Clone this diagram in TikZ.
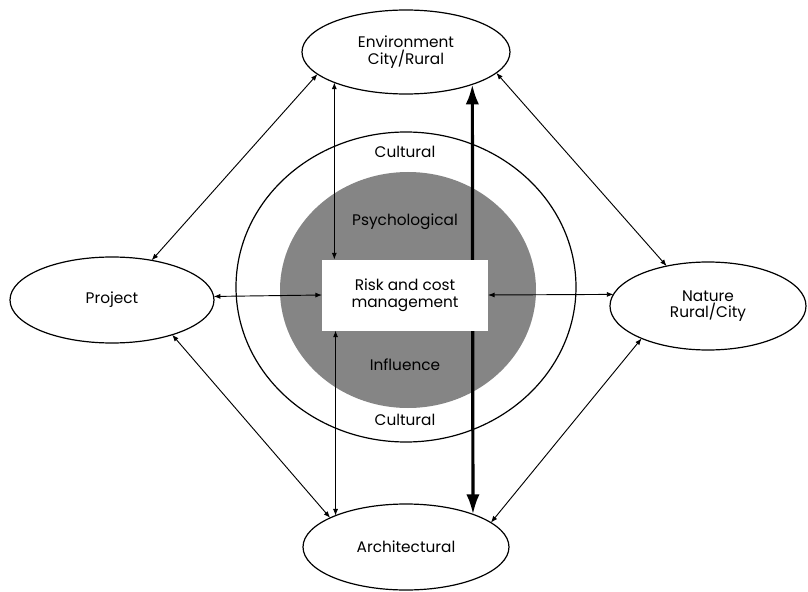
\documentclass[tikz,border=0pt]{standalone}
\usepackage{fontspec}
\setmainfont{Poppins}
\usetikzlibrary{arrows.meta,shapes.geometric}
\begin{document}
\begin{tikzpicture}[x=0.75pt,y=-0.75pt,
  lbl/.style={font=\fontsize{11.5}{12.5}\selectfont, align=center},
  oval/.style={draw, ellipse, line width=0.9pt, inner sep=0pt, outer sep=0pt, lbl},
  core/.style={fill=white, rectangle, inner sep=0pt, outer sep=0pt,
    minimum width=124.5pt, minimum height=53.25pt, lbl},
  link/.style={line width=0.7pt, {Latex[length=5pt,width=3.8pt]}-{Latex[length=5pt,width=3.8pt]}},
  mainlink/.style={line width=2.4pt, {Latex[length=15pt,width=10pt]}-{Latex[length=15pt,width=10pt]}}
]
\useasboundingbox (0,0) rectangle (808,592);

% cultural ring and psychological core
\draw[line width=0.9pt] (406,287) ellipse [x radius=170, y radius=155];
\fill[black!48] (408,290) ellipse [x radius=128, y radius=118];

% outer contexts
\node[oval, minimum width=156pt, minimum height=63pt] (env) at (406,52) {Environment\\City/Rural};
\node[oval, minimum width=153pt, minimum height=64.5pt] (proj) at (112,300) {Project};
\node[oval, minimum width=147pt, minimum height=66pt] (nat) at (708,306) {Nature\\Rural/City};
\node[oval, minimum width=154.5pt, minimum height=64.5pt] (arch) at (406,547) {Architectural};

% main axis, passing behind the central box
\draw[mainlink] (env.-26.2) -- (arch.26.6);

% central box
\node[core] (rk) at (405,295) {Risk and cost\\management};

% links to the central box
\draw[link] (env.203.4) -- (env.203.4 |- rk.north);
\draw[link] (arch.156.3 |- rk.south) -- (arch.156.3);
\draw[link] (proj.2.8) -- (rk.west);
\draw[link] (rk.east) -- (nat.173.4);

% links between the outer contexts
\draw[link] (proj.45.7) -- (env.194.5);
\draw[link] (env.-13.3) -- (nat.136.4);
\draw[link] (proj.-30.3) -- (arch.159.6);
\draw[link] (nat.206.6) -- (arch.16.5);

% ring labels
\node[lbl] (c1) at (405,152) {Cultural};
\node[lbl] (c2) at (405,420) {Cultural};
\node[lbl] (psy) at (405,222) {Psychological};
\node[lbl] (inf) at (405,365) {Influence};
\end{tikzpicture}
\end{document}
